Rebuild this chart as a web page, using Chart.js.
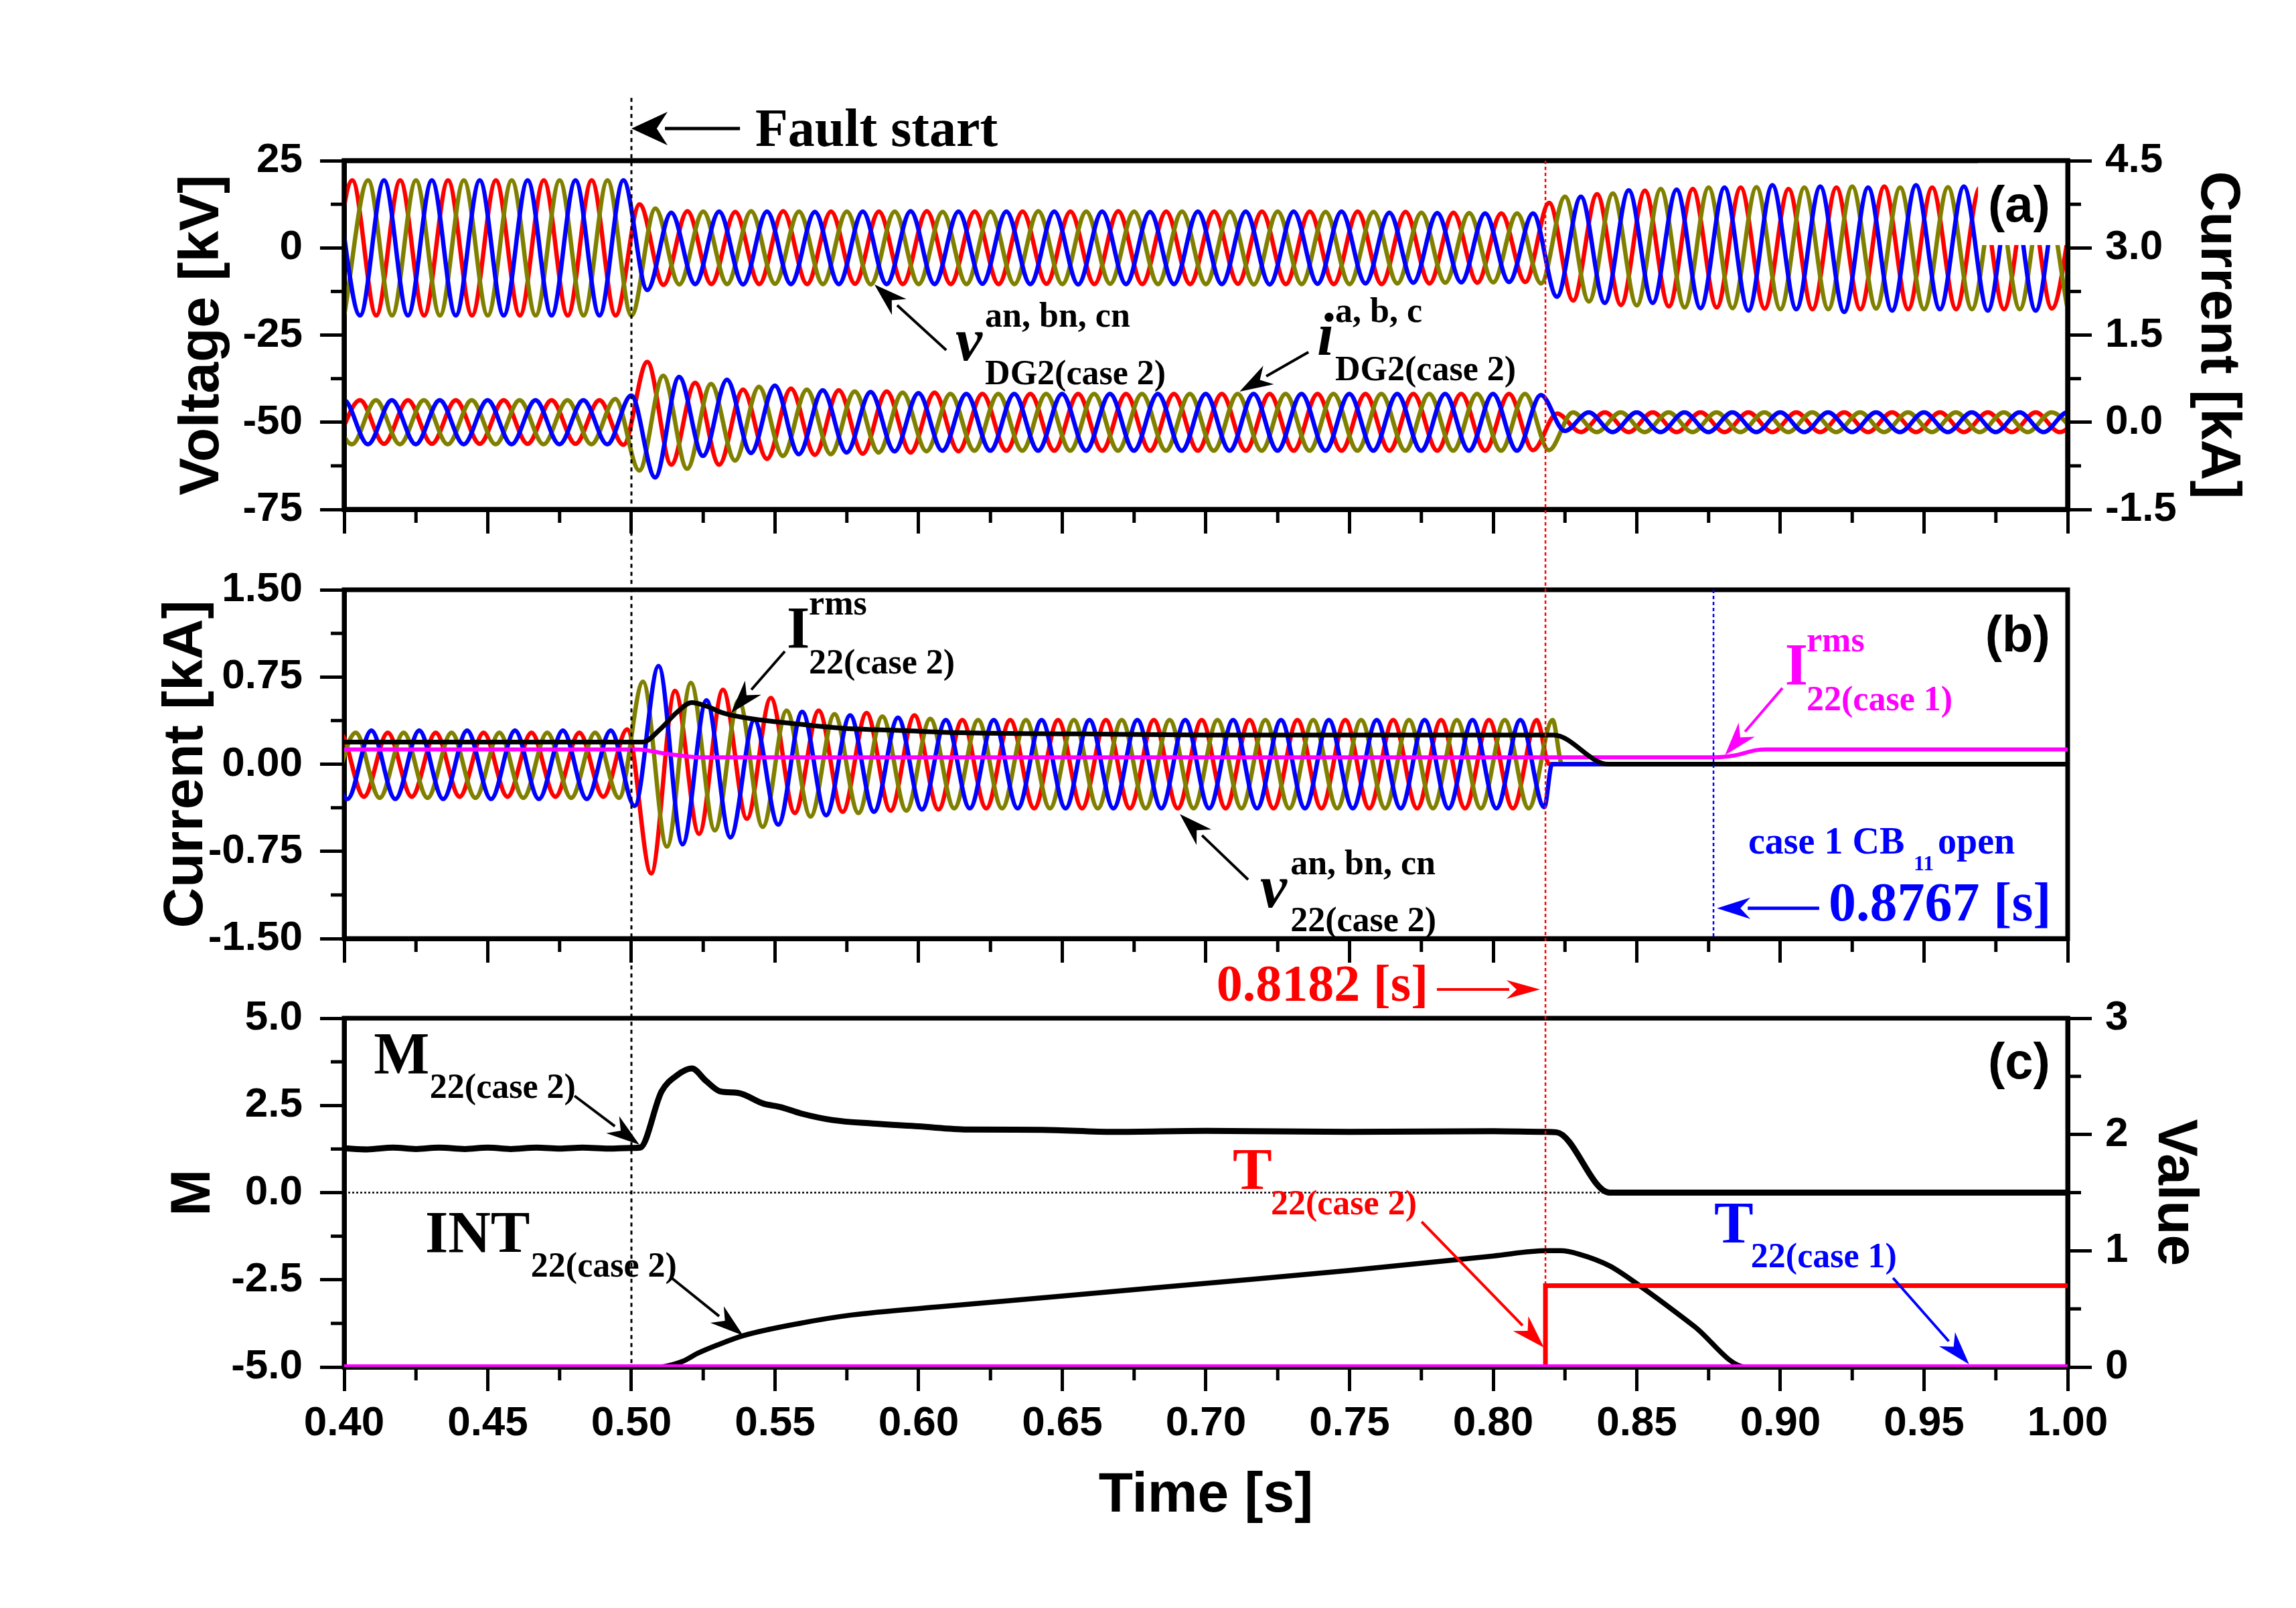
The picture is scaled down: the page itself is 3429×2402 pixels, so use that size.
<!DOCTYPE html>
<html>
<head>
<meta charset="utf-8">
<script src="https://cdn.jsdelivr.net/npm/chart.js@4.4.0/dist/chart.umd.min.js"></script>
<style>
body { margin: 0; background: #fff; }
canvas { position: absolute; left: 0; top: 0; }
</style>
</head>
<body>
<canvas id="panel_a" width="3429" height="2402"></canvas>
<canvas id="panel_b" width="3429" height="2402"></canvas>
<canvas id="panel_c" width="3429" height="2402"></canvas>
<script>
// Colours of the three phases and the rest
var red = "#FF0000";
var olive = "#808000";
var blue = "#0000FF";
var magenta = "#FF00FF";

// Time axis
var time_min = 0.40;
var time_max = 1.00;
var half_period = 1 / 120; // 60 Hz, read from the peak spacing
var fault_time = 0.50;
var trip_case2 = 0.8182;
var trip_case1 = 0.8767;

// (a) DG2 voltages [kV] - one value per half cycle, first one at *_start
var va_start = 0.3945;
var va_peaks = [-19.4, 19.4, -19.4, 19.4, -19.4, 19.4, -19.4, 19.4, -19.4, 19.4, -19.4, 19.4, -19.4,
	12.5, -10.6, 10.5,
	-10.4, 10.3, -10.4, 10.5, -10.4, 10.4, -10.3, 10.4, -10.4, 10.5,
	-10.4, 10.4, -10.4, 10.4, -10.3, 10.4, -10.4, 10.5, -10.4, 10.4,
	-10.4, 10.4, -10.3, 10.4, -10.4, 10.4, -10.4, 10.4, -10.4, 10.3,
	-10.2, 10.1, -10.0, 9.9, -9.8,
	12.9, -15.1, 15.4, -16.4, 16.4, -16.8, 16.9, -17.1, 17.3, -17.4,
	16.9, -17.6, 17.3, -17.6, 17.6, -17.6, 17.3, -17.6, 17.3, -17.6,
	17.3, -17.4, 17.3];
var vb_start = 0.4000;
var vb_peaks = [-19.4, 19.4, -19.4, 19.4, -19.4, 19.4, -19.4, 19.4, -19.4, 19.4, -19.4, 19.4, -19.4,
	11.3, -10.5,
	10.4, -10.4, 10.5, -10.3, 10.4, -10.4, 10.4, -10.5, 10.4, -10.4,
	10.3, -10.4, 10.4, -10.4, 10.5, -10.4, 10.4, -10.3, 10.4, -10.4,
	10.4, -10.4, 10.4, -10.5, 10.4, -10.4, 10.3, -10.4, 10.3, -10.2,
	10.1, -10.0, 10.0, -9.9, 9.9, -10.2,
	14.7, -15.4, 15.6, -16.5, 16.9, -17.1, 17.3, -17.3, 17.4, -17.6,
	17.3, -17.6, 17.6, -17.4, 17.3, -17.6, 17.4, -17.6, 17.3, -17.6,
	17.4, -17.6];
var vc_start = 0.3972;
var vc_peaks = [19.4, -19.4, 19.4, -19.4, 19.4, -19.4, 19.4, -19.4, 19.4, -19.4, 19.4, -19.4, 19.4,
	-12.1, 10.1,
	-10.4, 10.4, -10.5, 10.4, -10.4, 10.3, -10.4, 10.4, -10.4, 10.5,
	-10.4, 10.4, -10.3, 10.4, -10.4, 10.4, -10.5, 10.4, -10.4, 10.3,
	-10.4, 10.4, -10.4, 10.4, -10.5, 10.4, -10.3, 10.4, -10.2, 10.1,
	-10.0, 10.0, -9.9, 9.9, -9.8, 9.9,
	-14.0, 14.7, -15.8, 16.5, -15.8, 16.7, -17.3, 17.3, -18.0, 18.0,
	-17.6, 17.6, -18.4, 17.3, -18.0, 18.0, -17.6, 17.6, -18.0, 17.6,
	-18.0, 17.6, -18.0];

// (a) DG2 currents [kA]
var ia_start = 0.3972;
var ia_peaks = [-0.37, 0.38, -0.37, 0.38, -0.37, 0.38, -0.37, 0.38, -0.37, 0.38, -0.37, 0.38, -0.39,
	1.04, -0.73, 0.68, -0.73, 0.56, -0.63, 0.58, -0.56, 0.55, -0.54, 0.53, -0.52, 0.51, -0.50,
	0.49, -0.49, 0.49, -0.49, 0.49, -0.49, 0.49, -0.49, 0.49, -0.49, 0.49, -0.49,
	0.49, -0.49, 0.49, -0.49, 0.49, -0.49, 0.49, -0.49, 0.49, -0.49, 0.49, -0.48,
	0.15,
	-0.17, 0.17, -0.17, 0.17, -0.17, 0.17, -0.17, 0.17, -0.17, 0.17, -0.17,
	0.17, -0.17, 0.17, -0.17, 0.17, -0.17, 0.17, -0.17, 0.17, -0.17, 0.17];
var ib_start = 0.3944;
var ib_peaks = [0.38, -0.38, 0.38, -0.38, 0.38, -0.38, 0.38, -0.38, 0.38, -0.38, 0.38, -0.38, 0.40,
	-0.83, 0.80, -0.80, 0.66, -0.66, 0.61, -0.58, 0.56, -0.55, 0.53, -0.52, 0.51, -0.50,
	0.49, -0.49, 0.49, -0.49, 0.49, -0.49, 0.49, -0.49, 0.49, -0.49, 0.49, -0.49,
	0.49, -0.49, 0.49, -0.49, 0.49, -0.49, 0.49, -0.49, 0.49, -0.49, 0.49, -0.49, 0.49,
	-0.48,
	0.17, -0.17, 0.17, -0.17, 0.17, -0.17, 0.17, -0.17, 0.17, -0.17, 0.17,
	-0.17, 0.17, -0.17, 0.17, -0.17, 0.17, -0.17, 0.17, -0.17, 0.17, -0.17];
var ic_start = 0.3916;
var ic_peaks = [-0.38, 0.38, -0.38, 0.38, -0.38, 0.38, -0.38, 0.38, -0.38, 0.38, -0.38, 0.38, -0.38,
	0.46, -0.95, 0.78, -0.58, 0.73, -0.53, 0.63, -0.55, 0.55, -0.52, 0.52, -0.50, 0.50,
	-0.49, 0.49, -0.49, 0.49, -0.49, 0.49, -0.49, 0.49, -0.49, 0.49, -0.49, 0.49,
	-0.49, 0.49, -0.49, 0.49, -0.49, 0.49, -0.49, 0.49, -0.49, 0.49, -0.49, 0.49, -0.49,
	0.47, -0.15,
	0.17, -0.17, 0.17, -0.17, 0.17, -0.17, 0.17, -0.17, 0.17, -0.17, 0.17,
	-0.17, 0.17, -0.17, 0.17, -0.17, 0.17, -0.17, 0.17, -0.17, 0.17, -0.17];

// (b) line 22 phase currents [kA], case 2
var rb_start = 0.3902;
var rb_peaks = [-0.28, 0.27, -0.28, 0.27, -0.28, 0.27, -0.28, 0.27, -0.28, 0.27, -0.28, 0.27, -0.28,
	0.30, -0.94, 0.63, -0.60, 0.64, -0.47, 0.57, -0.42, 0.46, -0.41, 0.44, -0.40, 0.42, -0.39,
	0.38, -0.38, 0.38, -0.38, 0.38, -0.38, 0.38, -0.38, 0.38, -0.38, 0.38, -0.38,
	0.38, -0.38, 0.38, -0.38, 0.38, -0.38, 0.38, -0.38, 0.38, -0.38, 0.38, -0.38, 0.38];
var rb_tail = [[0.8195, 0], [1.00, 0]];
var ob_start = 0.3957;
var ob_peaks = [-0.29, 0.27, -0.29, 0.27, -0.29, 0.27, -0.29, 0.27, -0.29, 0.27, -0.29, 0.27, -0.29,
	0.71, -0.71, 0.70, -0.57, 0.55, -0.54, 0.46, -0.45, 0.43, -0.42, 0.41, -0.40, 0.39,
	-0.38, 0.38, -0.38, 0.38, -0.38, 0.38, -0.38, 0.38, -0.38, 0.38, -0.38, 0.38, -0.38,
	0.38, -0.38, 0.38, -0.38, 0.38, -0.38, 0.38, -0.38, 0.38, -0.38, 0.38, -0.38, 0.38];
var ob_tail = [[0.824, 0], [1.00, 0]];
var bb_start = 0.3928;
var bb_peaks = [0.29, -0.30, 0.29, -0.30, 0.29, -0.30, 0.29, -0.30, 0.29, -0.30, 0.29, -0.30, 0.29,
	-0.36, 0.845, -0.69, 0.55, -0.63, 0.38, -0.52, 0.45, -0.44, 0.42, -0.41, 0.40, -0.39,
	0.38, -0.38, 0.38, -0.38, 0.38, -0.38, 0.38, -0.38, 0.38, -0.38, 0.38, -0.38, 0.38,
	-0.38, 0.38, -0.38, 0.38, -0.38, 0.38, -0.38, 0.38, -0.38, 0.38, -0.38, 0.38, -0.37];
var bb_tail = [[0.8205, 0], [1.00, 0]];

// (b) rms currents [kA]
var irms_case2 = [[0.400, 0.19], [0.450, 0.19], [0.504, 0.19], [0.510, 0.30], [0.516, 0.45], [0.521, 0.53],
	[0.526, 0.50], [0.532, 0.44], [0.542, 0.39], [0.556, 0.35], [0.573, 0.31], [0.594, 0.29],
	[0.615, 0.27], [0.657, 0.26], [0.700, 0.25], [0.800, 0.25], [0.821, 0.25], [0.840, 0.0], [1.000, 0.0]];
var irms_case1 = [[0.400, 0.127], [0.502, 0.127], [0.512, 0.09], [0.524, 0.059], [0.877, 0.059],
	[0.884, 0.075], [0.8915, 0.12], [0.895, 0.127], [1.000, 0.127]];

// (c) M (left axis) and INT / T (right axis "Value")
var m_case2 = [[0.400, 1.27], [0.408, 1.24], [0.417, 1.29], [0.425, 1.25], [0.433, 1.29], [0.442, 1.25],
	[0.450, 1.29], [0.458, 1.25], [0.467, 1.29], [0.475, 1.26], [0.483, 1.29], [0.492, 1.26],
	[0.500, 1.28], [0.503, 1.29], [0.5105, 2.9], [0.516, 3.37], [0.521, 3.56], [0.526, 3.2],
	[0.531, 2.9], [0.537, 2.86], [0.546, 2.55], [0.552, 2.45], [0.559, 2.27], [0.570, 2.08],
	[0.584, 1.98], [0.600, 1.90], [0.617, 1.81], [0.643, 1.80], [0.668, 1.74], [0.700, 1.77],
	[0.750, 1.74], [0.800, 1.76], [0.818, 1.74], [0.822, 1.73], [0.8405, 0.0], [1.000, 0.0]];
var m_zero = [[0.400, 0], [1.000, 0]];
var int_case2 = [[0.400, 0], [0.510, 0], [0.5127, 0.01], [0.518, 0.05], [0.523, 0.117], [0.530, 0.19],
	[0.539, 0.27], [0.5587, 0.376], [0.5765, 0.447], [0.6065, 0.517], [0.650, 0.61], [0.700, 0.72],
	[0.750, 0.83], [0.800, 0.955], [0.8185, 1.0], [0.8235, 1.0], [0.830, 0.97], [0.8405, 0.87],
	[0.8515, 0.69], [0.870, 0.35], [0.888, 0.0], [1.000, 0.0]];
var t_case2 = [[0.400, 0], [0.8182, 0], [0.8182, 0.70], [1.000, 0.70]];
var t_case1 = [[0.400, 0], [1.000, 0]];
var int_case1 = [[0.400, 0], [1.000, 0]];

// Build point lists
function wave(start, peaks, tail) {
	var pts = peaks.map(function(v, k) {
		return {x: start + k * half_period, y: v};
	});
	(tail || []).forEach(function(p) { pts.push({x: p[0], y: p[1]}); });
	return pts;
}
function pairs(list) {
	return list.map(function(p) { return {x: p[0], y: p[1]}; });
}
function line(data, color, width, axis, extra) {
	var ds = {
		data: data, borderColor: color, borderWidth: width, yAxisID: axis || "y",
		pointRadius: 0, fill: false, cubicInterpolationMode: "monotone"
	};
	for (var k in extra || {}) ds[k] = extra[k];
	return ds;
}

// Text and arrows (positions in axis units of each panel)
var serif = "\"Liberation Serif\", \"Times New Roman\", serif";
var sans = "\"Liberation Sans\", Arial, sans-serif";
var notes_a = [
	["Fault start", 0.5431, 29.2, "bold 80px", "#000"],
	["v", 0.6128, -32.2, "italic bold 90px", "#000"],
	["an, bn, cn", 0.6231, -22.6, "bold 52px", "#000"],
	["DG2(case 2)", 0.6231, -39.1, "bold 52px", "#000"],
	["i", 0.7387, -30.7, "italic bold 90px", "#000"],
	["a, b, c", 0.7450, -21.3, "bold 52px", "#000"],
	["DG2(case 2)", 0.7450, -38.0, "bold 52px", "#000"]
];
var arrows_a = [
	[0.5378, 34.2, 0.5000, 34.2, "#000", 54, 25, 5],
	[0.6096, -29.3, 0.5846, -10.5, "#000", 50, 16, 4],
	[0.7357, -29.9, 0.7117, -41.2, "#000", 50, 16, 4]
];
var notes_b = [
	["I", 0.5541, 1.005, "bold 88px", "#000"],
	["rms", 0.5618, 1.287, "bold 52px", "#000"],
	["22(case 2)", 0.5618, 0.780, "bold 52px", "#000"],
	["v", 0.7189, -1.229, "italic bold 90px", "#000"],
	["an, bn, cn", 0.7294, -0.947, "bold 52px", "#000"],
	["22(case 2)", 0.7294, -1.436, "bold 52px", "#000"],
	["I", 0.9016, 0.688, "bold 88px", magenta],
	["rms", 0.9091, 0.970, "bold 52px", magenta],
	["22(case 1)", 0.9091, 0.464, "bold 52px", magenta],
	["case 1 CB", 0.8888, -0.768, "bold 56px", blue],
	["11", 0.9464, -0.912, "bold 32px", blue],
	["open", 0.9548, -0.768, "bold 56px", blue],
	["0.8767 [s]", 0.9168, -1.344, "bold 82px", blue]
];
var arrows_b = [
	[0.5534, 0.970, 0.5347, 0.441, "#000", 50, 16, 4],
	[0.7147, -0.993, 0.6909, -0.429, "#000", 50, 16, 4],
	[0.9007, 0.654, 0.8807, 0.078, magenta, 50, 16, 4],
	[0.9135, -1.240, 0.8779, -1.240, blue, 50, 16, 5]
];
var notes_c = [
	["M", 0.4103, 3.426, "bold 88px", "#000"],
	["22(case 2)", 0.4298, 2.716, "bold 52px", "#000"],
	["INT", 0.4282, -1.699, "bold 88px", "#000"],
	["22(case 2)", 0.4650, -2.409, "bold 52px", "#000"],
	["T", 0.7093, 0.106, "bold 88px", red],
	["22(case 2)", 0.7226, -0.624, "bold 52px", red],
	["T", 0.8769, -1.430, "bold 88px", blue],
	["22(case 1)", 0.8897, -2.140, "bold 52px", blue],
	["0.8182 [s]", 0.7037, 5.499, "bold 78px", red]
];
var arrows_c = [
	[0.4802, 2.774, 0.5028, 1.372, "#000", 50, 16, 4],
	[0.5140, -2.447, 0.5389, -4.098, "#000", 50, 16, 4],
	[0.7751, -0.835, 0.8177, -4.443, red, 50, 16, 4],
	[0.9392, -2.447, 0.9657, -4.923, blue, 50, 16, 4],
	[0.7804, 5.825, 0.8163, 5.825, red, 50, 14, 4]
];

Chart.defaults.font.family = sans;
Chart.defaults.color = "#000";

var tick_font = {family: sans, size: 62, weight: "bold"};
var title_font = {family: sans, size: 84, weight: "bold"};
var grid_style = {drawOnChartArea: false, drawTicks: true, tickLength: 36, tickWidth: 5, lineWidth: 5, tickColor: "#000", color: "#000"};
var border_style = {display: true, width: 7, color: "#000"};

function arrow(ctx, x1, y1, x2, y2, color, len, half, w) {
	var a = Math.atan2(y2 - y1, x2 - x1);
	var bx = x2 - len * Math.cos(a), by = y2 - len * Math.sin(a);
	ctx.strokeStyle = color;
	ctx.fillStyle = color;
	ctx.lineWidth = w;
	ctx.beginPath();
	ctx.moveTo(x1, y1);
	ctx.lineTo(bx + 4 * Math.cos(a), by + 4 * Math.sin(a));
	ctx.stroke();
	ctx.beginPath();
	ctx.moveTo(x2, y2);
	ctx.lineTo(bx + half * Math.sin(a), by - half * Math.cos(a));
	ctx.lineTo(bx + 0.3 * len * Math.cos(a), by + 0.3 * len * Math.sin(a));
	ctx.lineTo(bx - half * Math.sin(a), by + half * Math.cos(a));
	ctx.closePath();
	ctx.fill();
}

function frame(chart) {
	var ctx = chart.ctx, area = chart.chartArea;
	ctx.save();
	ctx.strokeStyle = "#000";
	ctx.lineWidth = 7;
	ctx.strokeRect(area.left, area.top, area.right - area.left, area.bottom - area.top);
	ctx.restore();
}

// Frame, minor ticks, labels and arrows of one panel
function decor(notes, arrows, tag, mask) {
	return {
		id: "decor",
		beforeDatasetsDraw: function(chart) {
			frame(chart);
		},
		afterDatasetsDraw: function(chart) {
			var ctx = chart.ctx, area = chart.chartArea, xs = chart.scales.x, ys = chart.scales.y;
			ctx.save();
			if (mask) {
				// the opaque box behind the panel tag
				ctx.fillStyle = "#fff";
				var mx = xs.getPixelForValue(mask[0]), my = ys.getPixelForValue(mask[1]);
				ctx.fillRect(mx, area.top, area.right - mx, my - area.top);
				frame(chart);
			}
			// minor ticks between the labelled ones
			ctx.strokeStyle = "#000";
			ctx.lineWidth = 5;
			Object.keys(chart.scales).forEach(function(id) {
				var s = chart.scales[id];
				for (var i = 0; i < s.ticks.length - 1; i++) {
					var p = s.getPixelForValue((s.ticks[i].value + s.ticks[i + 1].value) / 2);
					ctx.beginPath();
					if (s.axis === "x") { ctx.moveTo(p, area.bottom); ctx.lineTo(p, area.bottom + 20); }
					else if (s.position === "left") { ctx.moveTo(area.left, p); ctx.lineTo(area.left - 20, p); }
					else { ctx.moveTo(area.right, p); ctx.lineTo(area.right + 20, p); }
					ctx.stroke();
				}
			});
			arrows.forEach(function(a) {
				arrow(ctx, xs.getPixelForValue(a[0]), ys.getPixelForValue(a[1]),
					xs.getPixelForValue(a[2]), ys.getPixelForValue(a[3]), a[4], a[5], a[6], a[7]);
			});
			ctx.textBaseline = "alphabetic";
			ctx.textAlign = "left";
			notes.forEach(function(n) {
				ctx.font = n[3] + " " + serif;
				ctx.fillStyle = n[4];
				ctx.fillText(n[0], xs.getPixelForValue(n[1]), ys.getPixelForValue(n[2]));
			});
			ctx.font = "bold 76px " + sans;
			ctx.fillStyle = "#000";
			ctx.textAlign = "right";
			ctx.fillText(tag[0], xs.getPixelForValue(tag[1]), ys.getPixelForValue(tag[2]));
			ctx.restore();
		}
	};
}

function xAxis(labels) {
	return {
		type: "linear", position: "bottom", min: time_min, max: time_max,
		afterFit: function(s) { s.height = labels ? 300 : 60; },
		ticks: {display: labels, stepSize: 0.05, autoSkip: false, maxRotation: 0, padding: 12, font: tick_font, color: "#000",
			callback: function(v) { return v.toFixed(2); }},
		grid: grid_style, border: border_style,
		title: {display: labels, text: "Time [s]", font: title_font, color: "#000", padding: {top: 0, bottom: 57}}
	};
}
function yAxis(pos, min, max, step, digits, title, pad) {
	return {
		type: "linear", position: pos, min: min, max: max,
		afterFit: function(s) { s.width = pos === "left" ? 314 : 312; },
		ticks: {stepSize: step, padding: pos === "left" ? 26 : 20, font: tick_font, color: "#000",
			callback: function(v) { return digits === null ? String(v) : v.toFixed(digits); }},
		grid: grid_style, border: border_style,
		title: {display: true, text: title, font: title_font, color: "#000", padding: {top: pad, bottom: 0}}
	};
}
function baseOptions(padding, scales) {
	return {
		responsive: false, animation: false, devicePixelRatio: 1, events: [],
		layout: {padding: padding},
		plugins: {legend: {display: false}, tooltip: {enabled: false}},
		scales: scales
	};
}

// Panel (a)
var chart_a = new Chart(document.getElementById("panel_a"), {
	type: "line",
	data: {datasets: [
		line(wave(vc_start, vc_peaks), blue, 6.5, "y"),
		line(wave(vb_start, vb_peaks), olive, 6.5, "y"),
		line(wave(va_start, va_peaks), red, 6.5, "y"),
		line(wave(ic_start, ic_peaks), blue, 6.5, "yR"),
		line(wave(ib_start, ib_peaks), olive, 6.5, "yR"),
		line(wave(ia_start, ia_peaks), red, 6.5, "yR")
	]},
	options: baseOptions({left: 200, right: 29, top: 240, bottom: 1581}, {
		x: xAxis(false),
		y: yAxis("left", -75, 25, 25, null, "Voltage [kV]", 52),
		yR: yAxis("right", -1.5, 4.5, 1.5, 1, "Current [kA]", 38)
	}),
	plugins: [decor(notes_a, arrows_a, ["(a)", 0.9939, 7.5], [0.9688, 0.8])]
});

// Panel (b)
var chart_b = new Chart(document.getElementById("panel_b"), {
	type: "line",
	data: {datasets: [
		line(pairs(irms_case2), "#000", 7),
		line(pairs(irms_case1), magenta, 6),
		line(wave(bb_start, bb_peaks, bb_tail), blue, 6.5),
		line(wave(ob_start, ob_peaks, ob_tail), olive, 6.5),
		line(wave(rb_start, rb_peaks, rb_tail), red, 6.5)
	]},
	options: baseOptions({left: 200, right: 341, top: 881, bottom: 940}, {
		x: xAxis(false),
		y: yAxis("left", -1.5, 1.5, 0.75, 2, "Current [kA]", 28)
	}),
	plugins: [decor(notes_b, arrows_b, ["(b)", 0.9939, 0.97], null)]
});

// Panel (c)
var chart_c = new Chart(document.getElementById("panel_c"), {
	type: "line",
	data: {datasets: [
		line(pairs(int_case1), magenta, 8, "yR", {cubicInterpolationMode: "default"}),
		line(pairs(t_case1), blue, 8, "yR", {cubicInterpolationMode: "default"}),
		line(pairs(t_case2), red, 7, "yR", {cubicInterpolationMode: "default"}),
		line(pairs(m_case2), "#000", 9, "y"),
		line(pairs(int_case2), "#000", 7.5, "yR"),
		line(pairs(m_zero), "#000", 2.5, "y", {cubicInterpolationMode: "default", borderDash: [3, 3]})
	]},
	options: baseOptions({left: 200, right: 29, top: 1521, bottom: 60}, {
		x: xAxis(true),
		y: yAxis("left", -5, 5, 2.5, 1, "M", 39),
		yR: yAxis("right", 0, 3, 1, null, "Value", 102)
	}),
	plugins: [decor(notes_c, arrows_c, ["(c)", 0.9939, 3.27], null), {
		id: "eventLines",
		afterDraw: function(chart) {
			// event markers running across the panels
			var ctx = chart.ctx, xs = chart.scales.x;
			var bottom_c = chart.chartArea.bottom;
			function vline(t, y1, y2, color, w, dash) {
				var x = xs.getPixelForValue(t);
				ctx.save();
				ctx.strokeStyle = color;
				ctx.lineWidth = w;
				ctx.setLineDash(dash);
				ctx.beginPath();
				ctx.moveTo(x, y1);
				ctx.lineTo(x, y2);
				ctx.stroke();
				ctx.restore();
			}
			vline(fault_time, chart_a.scales.y.getPixelForValue(43), bottom_c, "#000", 3, [6, 6]);
			vline(trip_case2, chart_a.chartArea.top, bottom_c - 4, red, 2.5, [5, 4]);
			vline(trip_case1, chart_b.chartArea.top, chart_b.chartArea.bottom, blue, 2.5, [5, 4]);
		}
	}]
});
</script>
</body>
</html>
